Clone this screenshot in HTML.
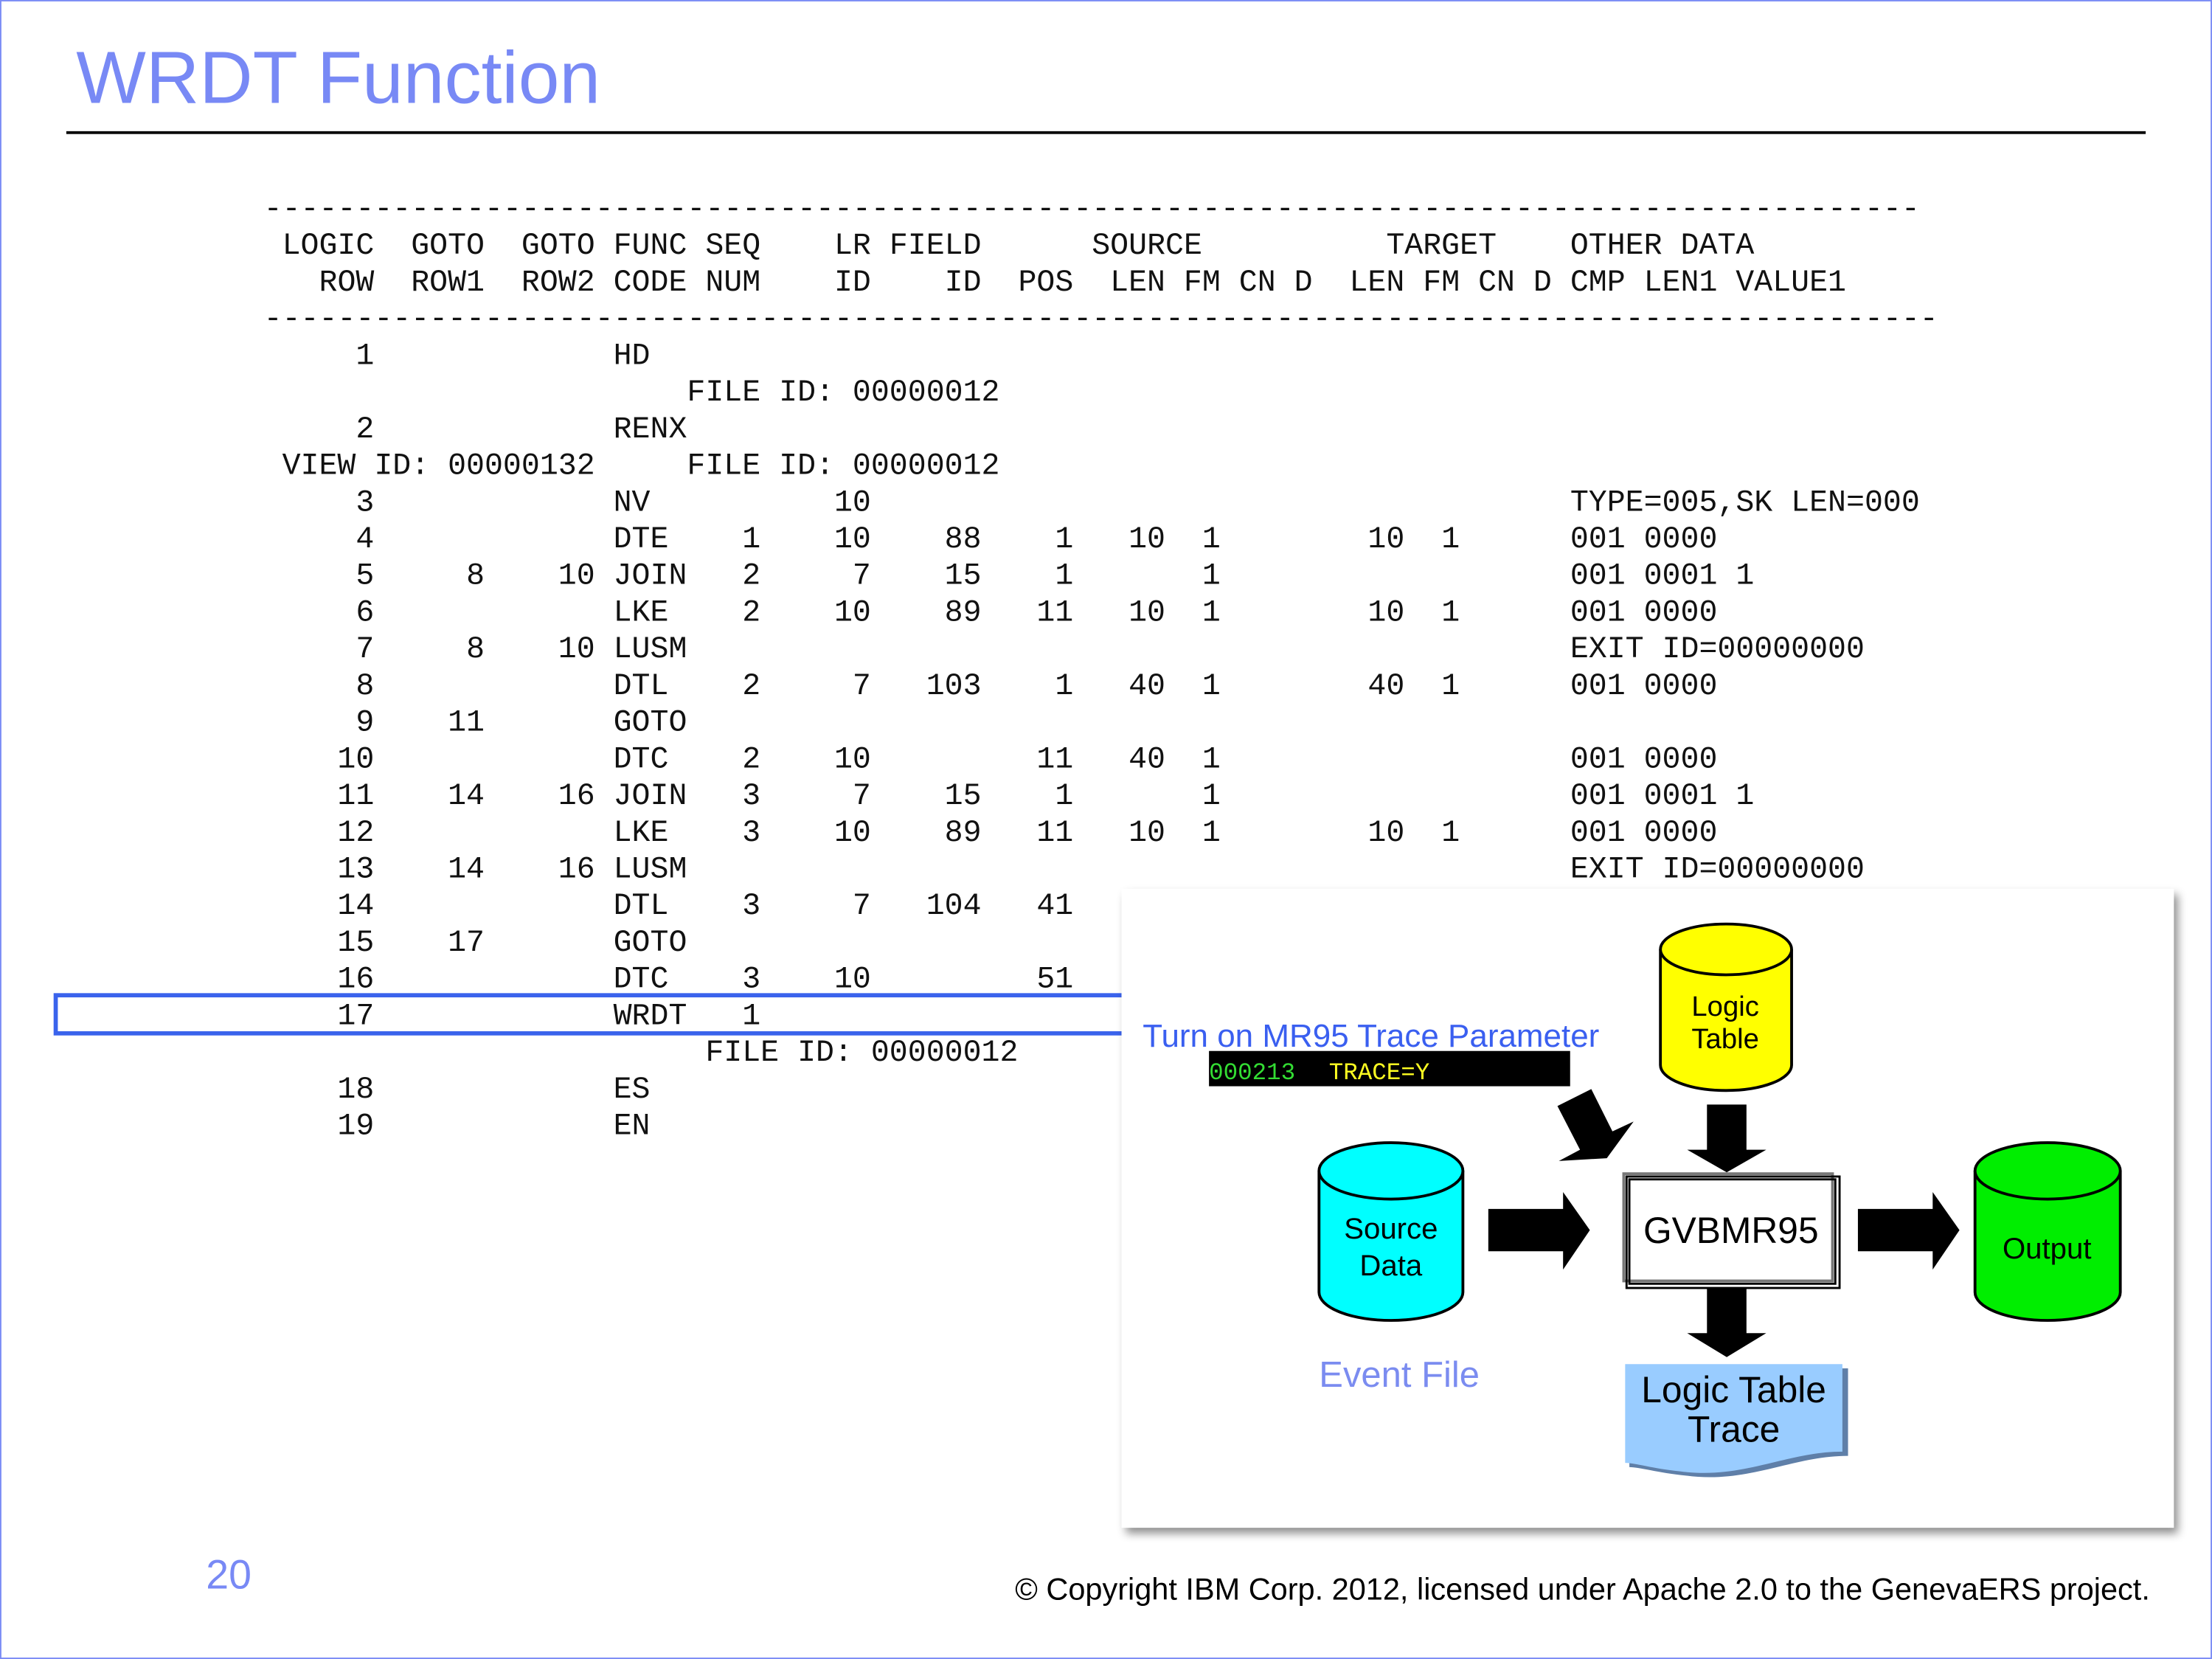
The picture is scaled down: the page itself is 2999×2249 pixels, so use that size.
<!DOCTYPE html>
<html><head><meta charset="utf-8"><style>
html,body{margin:0;padding:0;background:#fff;}
body{width:2999px;height:2249px;overflow:hidden;position:relative;}
#s{position:absolute;left:0;top:0;width:1568px;height:1176px;transform:scale(1.91263,1.91241);transform-origin:0 0;}
.b{position:absolute;left:0;top:0;width:1566px;height:1174px;border:1px solid #7b8cf5;}
.t{position:absolute;left:54px;top:26px;font:52.4px "Liberation Sans",sans-serif;color:#7889f5;}
.hl{position:absolute;left:47px;top:93px;width:1474px;height:2px;background:#000;}
.m{position:absolute;left:187px;top:136px;font:21.74px/26px "Liberation Mono",monospace;color:#111;}
.r{position:relative;height:26px;white-space:pre;}
.r i{position:absolute;font-style:normal;top:0;}
.box{position:absolute;left:38px;top:704px;width:800px;height:24px;border:3px solid #3a63ec;}
.pn{position:absolute;left:795px;top:630px;width:746px;height:453px;background:#fff;box-shadow:3px 4px 6px rgba(0,0,0,.45);}
.sv{position:absolute;left:0;top:0;}
.pg{position:absolute;left:146px;top:1101px;font:29px "Liberation Sans",sans-serif;color:#7889f5;}
.cp{position:absolute;right:44px;top:1114px;font:21.7px "Liberation Sans",sans-serif;color:#000;}
</style></head><body><div id="s">
<div class="b"></div>
<div class="t">WRDT Function</div>
<div class="hl"></div>
<div class="box"></div>
<div class="m">
<div class="r"><i style="left:0ch">------------------------------------------------------------------------------------------</i></div>
<div class="r"><i style="left:1ch">LOGIC</i><i style="left:8ch">GOTO</i><i style="left:14ch">GOTO</i><i style="left:19ch">FUNC</i><i style="left:24ch">SEQ</i><i style="left:31ch">LR</i><i style="left:34ch">FIELD</i><i style="left:45ch">SOURCE</i><i style="left:61ch">TARGET</i><i style="left:71ch">OTHER DATA</i></div>
<div class="r"><i style="left:3ch">ROW</i><i style="left:8ch">ROW1</i><i style="left:14ch">ROW2</i><i style="left:19ch">CODE</i><i style="left:24ch">NUM</i><i style="left:31ch">ID</i><i style="left:37ch">ID</i><i style="left:41ch">POS</i><i style="left:46ch">LEN</i><i style="left:50ch">FM</i><i style="left:53ch">CN</i><i style="left:56ch">D</i><i style="left:59ch">LEN</i><i style="left:63ch">FM</i><i style="left:66ch">CN</i><i style="left:69ch">D</i><i style="left:71ch">CMP</i><i style="left:75ch">LEN1</i><i style="left:80ch">VALUE1</i></div>
<div class="r"><i style="left:0ch">-------------------------------------------------------------------------------------------</i></div>
<div class="r"><i style="left:5ch">1</i><i style="left:19ch">HD</i></div>
<div class="r"><i style="left:23ch">FILE ID: 00000012</i></div>
<div class="r"><i style="left:5ch">2</i><i style="left:19ch">RENX</i></div>
<div class="r"><i style="left:1ch">VIEW ID: 00000132</i><i style="left:23ch">FILE ID: 00000012</i></div>
<div class="r"><i style="left:5ch">3</i><i style="left:19ch">NV</i><i style="left:31ch">10</i><i style="left:71ch">TYPE=005,SK LEN=000</i></div>
<div class="r"><i style="left:5ch">4</i><i style="left:19ch">DTE</i><i style="left:26ch">1</i><i style="left:31ch">10</i><i style="left:37ch">88</i><i style="left:43ch">1</i><i style="left:47ch">10</i><i style="left:51ch">1</i><i style="left:60ch">10</i><i style="left:64ch">1</i><i style="left:71ch">001 0000</i></div>
<div class="r"><i style="left:5ch">5</i><i style="left:11ch">8</i><i style="left:16ch">10</i><i style="left:19ch">JOIN</i><i style="left:26ch">2</i><i style="left:32ch">7</i><i style="left:37ch">15</i><i style="left:43ch">1</i><i style="left:51ch">1</i><i style="left:71ch">001 0001 1</i></div>
<div class="r"><i style="left:5ch">6</i><i style="left:19ch">LKE</i><i style="left:26ch">2</i><i style="left:31ch">10</i><i style="left:37ch">89</i><i style="left:42ch">11</i><i style="left:47ch">10</i><i style="left:51ch">1</i><i style="left:60ch">10</i><i style="left:64ch">1</i><i style="left:71ch">001 0000</i></div>
<div class="r"><i style="left:5ch">7</i><i style="left:11ch">8</i><i style="left:16ch">10</i><i style="left:19ch">LUSM</i><i style="left:71ch">EXIT ID=00000000</i></div>
<div class="r"><i style="left:5ch">8</i><i style="left:19ch">DTL</i><i style="left:26ch">2</i><i style="left:32ch">7</i><i style="left:36ch">103</i><i style="left:43ch">1</i><i style="left:47ch">40</i><i style="left:51ch">1</i><i style="left:60ch">40</i><i style="left:64ch">1</i><i style="left:71ch">001 0000</i></div>
<div class="r"><i style="left:5ch">9</i><i style="left:10ch">11</i><i style="left:19ch">GOTO</i></div>
<div class="r"><i style="left:4ch">10</i><i style="left:19ch">DTC</i><i style="left:26ch">2</i><i style="left:31ch">10</i><i style="left:42ch">11</i><i style="left:47ch">40</i><i style="left:51ch">1</i><i style="left:71ch">001 0000</i></div>
<div class="r"><i style="left:4ch">11</i><i style="left:10ch">14</i><i style="left:16ch">16</i><i style="left:19ch">JOIN</i><i style="left:26ch">3</i><i style="left:32ch">7</i><i style="left:37ch">15</i><i style="left:43ch">1</i><i style="left:51ch">1</i><i style="left:71ch">001 0001 1</i></div>
<div class="r"><i style="left:4ch">12</i><i style="left:19ch">LKE</i><i style="left:26ch">3</i><i style="left:31ch">10</i><i style="left:37ch">89</i><i style="left:42ch">11</i><i style="left:47ch">10</i><i style="left:51ch">1</i><i style="left:60ch">10</i><i style="left:64ch">1</i><i style="left:71ch">001 0000</i></div>
<div class="r"><i style="left:4ch">13</i><i style="left:10ch">14</i><i style="left:16ch">16</i><i style="left:19ch">LUSM</i><i style="left:71ch">EXIT ID=00000000</i></div>
<div class="r"><i style="left:4ch">14</i><i style="left:19ch">DTL</i><i style="left:26ch">3</i><i style="left:32ch">7</i><i style="left:36ch">104</i><i style="left:42ch">41</i></div>
<div class="r"><i style="left:4ch">15</i><i style="left:10ch">17</i><i style="left:19ch">GOTO</i></div>
<div class="r"><i style="left:4ch">16</i><i style="left:19ch">DTC</i><i style="left:26ch">3</i><i style="left:31ch">10</i><i style="left:42ch">51</i></div>
<div class="r"><i style="left:4ch">17</i><i style="left:19ch">WRDT</i><i style="left:26ch">1</i></div>
<div class="r"><i style="left:24ch">FILE ID: 00000012</i></div>
<div class="r"><i style="left:4ch">18</i><i style="left:19ch">ES</i></div>
<div class="r"><i style="left:4ch">19</i><i style="left:19ch">EN</i></div>
</div>
<div class="pn"></div>
<svg class="sv" width="1568" height="1176" viewBox="0 0 1568 1176" font-family="Liberation Sans, sans-serif">
<text x="810" y="742" font-size="23" fill="#3a5ff0">Turn on MR95 Trace Parameter</text>
<rect x="857" y="745" width="256" height="25" fill="#000"/>
<text x="857" y="765" font-family="Liberation Mono, monospace" font-size="17" fill="#33dd33">000213</text>
<text x="942" y="765" font-family="Liberation Mono, monospace" font-size="17" fill="#ffff22">TRACE=Y</text>
<path d="M1177,673 L1177,755 A46.5,18 0 0 0 1270,755 L1270,673" fill="#ffff00" stroke="#000" stroke-width="2"/>
<ellipse cx="1223.5" cy="673" rx="46.5" ry="18" fill="#ffff00" stroke="#000" stroke-width="2"/>
<text x="1223" y="720" font-size="20" text-anchor="middle">Logic</text>
<text x="1223" y="743" font-size="20" text-anchor="middle">Table</text>
<polygon points="1104,784 1128,772 1143,802 1158,795 1139,821 1105,823 1120,815" fill="#000"/>
<polygon points="1210,783 1238,783 1238,815 1252,815 1224,831 1196,815 1210,815" fill="#000"/>
<path d="M935,830 L935,916 A51,20 0 0 0 1037,916 L1037,830" fill="#00ffff" stroke="#000" stroke-width="2"/>
<ellipse cx="986" cy="830" rx="51" ry="20" fill="#00ffff" stroke="#000" stroke-width="2"/>
<text x="986" y="878" font-size="21" text-anchor="middle">Source</text>
<text x="986" y="904" font-size="21" text-anchor="middle">Data</text>
<polygon points="1055,857 1108,857 1108,845 1127,872 1108,900 1108,887 1055,887" fill="#000"/>
<rect x="1151" y="832" width="148" height="76" fill="#fff" stroke="#777" stroke-width="2"/>
<rect x="1155" y="836" width="146" height="74" fill="none" stroke="#000" stroke-width="1.5"/>
<rect x="1153" y="834" width="151" height="79" fill="none" stroke="#000" stroke-width="1.5"/>
<text x="1227" y="881" font-size="26" text-anchor="middle">GVBMR95</text>
<polygon points="1317,857 1370,857 1370,845 1389,872 1370,900 1370,887 1317,887" fill="#000"/>
<path d="M1400,830 L1400,916 A51.5,20 0 0 0 1503,916 L1503,830" fill="#00ee00" stroke="#000" stroke-width="2"/>
<ellipse cx="1451.5" cy="830" rx="51.5" ry="20" fill="#00ee00" stroke="#000" stroke-width="2"/>
<text x="1451" y="892" font-size="21" text-anchor="middle">Output</text>
<polygon points="1210,913 1238,913 1238,945 1252,945 1224,962 1196,945 1210,945" fill="#000"/>
<text x="935" y="983" font-size="25.6" fill="#7b8cf0">Event File</text>
<path d="M1155,970 L1310,970 L1310,1032 C1270,1032 1240,1052 1195,1046 C1175,1044 1162,1040 1155,1040 Z" fill="#5f7fa8"/>
<path d="M1152,967 L1306,967 L1306,1029 C1266,1029 1236,1049 1191,1043 C1171,1041 1159,1037 1152,1037 Z" fill="#99ccff"/>
<text x="1229" y="994" font-size="26" text-anchor="middle">Logic Table</text>
<text x="1229" y="1022" font-size="26" text-anchor="middle">Trace</text>
</svg>
<div class="pg">20</div>
<div class="cp">© Copyright IBM Corp. 2012, licensed under Apache 2.0 to the GenevaERS project.</div>
</div></body></html>
